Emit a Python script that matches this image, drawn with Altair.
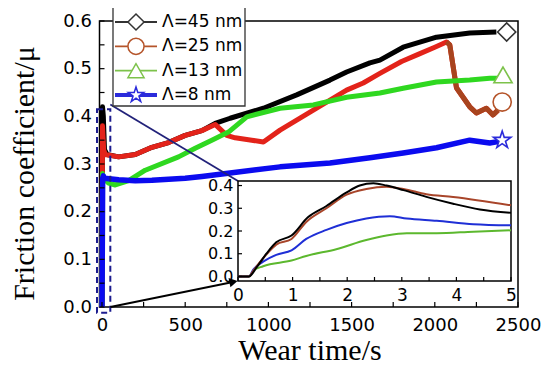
import altair as alt
import pandas as pd

# ---------------- main series (wear time s, friction coefficient) ----------------
t45 = [0, 3, 8, 15, 30, 100, 200, 300, 400, 500, 600, 680, 770, 970, 1170, 1370, 1470, 1610, 1670, 1810, 2010, 2210, 2370]
mu45 = [0, 0.42, 0.40, 0.33, 0.32, 0.315, 0.32, 0.335, 0.345, 0.36, 0.37, 0.385, 0.396, 0.417, 0.445, 0.476, 0.493, 0.512, 0.518, 0.545, 0.566, 0.575, 0.577]

t25 = [0, 3, 10, 20, 100, 200, 300, 400, 500, 600, 680, 750, 800, 900, 970, 1070, 1170, 1270, 1370, 1470, 1570, 1670, 1800, 1900, 2000, 2070, 2090, 2130, 2170, 2210, 2250, 2310, 2350, 2380]
mu25 = [0, 0.38, 0.33, 0.32, 0.315, 0.32, 0.335, 0.345, 0.36, 0.37, 0.383, 0.36, 0.355, 0.35, 0.346, 0.371, 0.392, 0.413, 0.434, 0.455, 0.47, 0.49, 0.515, 0.53, 0.545, 0.556, 0.55, 0.46, 0.44, 0.42, 0.407, 0.417, 0.403, 0.413]

t13 = [0, 3, 10, 40, 80, 160, 260, 460, 560, 660, 760, 870, 1070, 1270, 1470, 1670, 1810, 2010, 2210, 2330, 2380]
mu13 = [0, 0.28, 0.27, 0.26, 0.256, 0.265, 0.287, 0.315, 0.333, 0.35, 0.367, 0.399, 0.417, 0.424, 0.44, 0.449, 0.459, 0.472, 0.476, 0.48, 0.48]

t8 = [0, 4, 8, 15, 100, 200, 300, 400, 500, 600, 770, 1070, 1370, 1610, 1810, 2010, 2210, 2330, 2380]
mu8 = [0, 0.27, 0.275, 0.27, 0.267, 0.265, 0.266, 0.268, 0.27, 0.274, 0.281, 0.294, 0.302, 0.313, 0.323, 0.334, 0.35, 0.344, 0.347]

labels = ["Λ=45 nm", "Λ=25 nm", "Λ=13 nm", "Λ=8 nm"]
end_t = [2432, 2405, 2410, 2405]
end_mu = [0.577, 0.43, 0.487, 0.35]

# zoom box (data coords of main plot)
zoom_t = [-30, 50]
zoom_mu = [-0.012, 0.415]

# ---------------- inset series (0-5 s) ----------------
it45 = [0, 0.2, 0.34, 0.52, 0.7, 0.98, 1.28, 1.62, 1.99, 2.23, 2.48, 2.72, 3.03, 3.45, 3.94, 4.43, 5.0]
im45 = [0, 0.0, 0.04, 0.10, 0.15, 0.18, 0.26, 0.31, 0.37, 0.40, 0.41, 0.40, 0.38, 0.35, 0.32, 0.295, 0.28]
it25 = [0, 0.2, 0.28, 0.46, 0.7, 0.98, 1.25, 1.62, 1.99, 2.35, 2.72, 3.03, 3.45, 3.94, 5.0]
im25 = [0, 0.0, 0.025, 0.08, 0.14, 0.165, 0.24, 0.30, 0.36, 0.385, 0.395, 0.385, 0.362, 0.35, 0.313]
it13 = [0, 0.2, 0.28, 0.46, 0.98, 1.25, 1.8, 2.35, 2.72, 3.09, 3.64, 4.31, 5.0]
im13 = [0, 0.0, 0.025, 0.045, 0.07, 0.09, 0.12, 0.16, 0.18, 0.19, 0.19, 0.197, 0.203]
it8 = [0, 0.2, 0.28, 0.46, 0.7, 0.98, 1.25, 1.62, 1.99, 2.35, 2.78, 3.09, 3.64, 4.31, 5.0]
im8 = [0, 0.0, 0.03, 0.065, 0.095, 0.115, 0.165, 0.205, 0.235, 0.255, 0.265, 0.255, 0.245, 0.23, 0.225]

x_ticks = [0, 500, 1000, 1500, 2000, 2500]
x_minor = [250, 750, 1250, 1750, 2250]
y_ticks = [0, 0.1, 0.2, 0.3, 0.4, 0.5, 0.6]
y_minor = [0.05, 0.15, 0.25, 0.35, 0.45, 0.55]
ix_ticks = [0, 1, 2, 3, 4, 5]
ix_minor = [0.5, 1.5, 2.5, 3.5, 4.5]
iy_ticks = [0, 0.1, 0.2, 0.3, 0.4]

# ---------------- layout constants ----------------
W, H = 418.5, 286
INS_X0, INS_X1, INS_Y0, INS_Y1 = 138.5, 411.5, 160, 260
LABEL_FONT = "DejaVu Sans"
TITLE_FONT = "Liberation Serif"

STAR = ("M0,-1L0.225,-0.309L0.951,-0.309L0.363,0.118L0.588,0.809L0,0.382"
        "L-0.588,0.809L-0.363,0.118L-0.951,-0.309L-0.225,-0.309Z")

main_colors = ["#000000", "#e3231a", "#2fd820", "#0b0bef"]
marker_colors = ["#333333", "#b5542a", "#7dc24b", "#2b2bdb"]
inset_colors = ["#000000", "#a8452a", "#5cb82e", "#1f2fd6"]
shapes = ["diamond", "circle", "triangle-up", STAR]

xs = alt.Scale(domain=[-15, 2500], nice=False, zero=False)
ys = alt.Scale(domain=[0, 0.6], nice=False, zero=False)

x_axis = alt.Axis(orient="bottom", values=x_ticks, format="d", labelFont=LABEL_FONT, labelFontSize=18,
                  labelColor="black", ticks=False, domain=False, grid=False, labelPadding=9, title=None,
                  labelFlush=False)
y_axis = alt.Axis(orient="left", values=y_ticks, format=".1f", labelFont=LABEL_FONT, labelFontSize=18,
                  labelColor="black", ticks=False, domain=False, grid=False, labelPadding=8, title=None,
                  labelFlush=False)


def main_line(t, mu, color, width=5):
    df = pd.DataFrame({"t": t, "mu": mu})
    return alt.Chart(df).mark_line(color=color, strokeWidth=width, strokeJoin="round").encode(
        x=alt.X("t:Q", scale=xs, axis=x_axis),
        y=alt.Y("mu:Q", scale=ys, axis=y_axis),
    )


l45 = main_line(t45, mu45, main_colors[0])
l25 = main_line(t25, mu25, main_colors[1])
df25 = pd.DataFrame({"t": t25, "mu": mu25})
l25b = alt.Chart(df25).transform_filter(alt.datum.t >= 2070).mark_line(
    color="#a8441e", strokeWidth=5, strokeJoin="round").encode(
    x=alt.X("t:Q", scale=xs, axis=x_axis), y=alt.Y("mu:Q", scale=ys, axis=y_axis))
l13 = main_line(t13, mu13, main_colors[2])
l8 = main_line(t8, mu8, main_colors[3], 5.5)

ends = pd.DataFrame({"t": end_t, "mu": end_mu, "label": labels})
end_pts = alt.Chart(ends).mark_point(fill="white", fillOpacity=1, strokeWidth=1.6, size=330, opacity=1).encode(
    x=alt.X("t:Q", scale=xs, axis=x_axis), y=alt.Y("mu:Q", scale=ys, axis=y_axis),
    shape=alt.Shape("label:N", scale=alt.Scale(domain=labels, range=shapes), legend=None),
    color=alt.Color("label:N", scale=alt.Scale(domain=labels, range=marker_colors), legend=None),
)

zoom_df = pd.DataFrame({"x0": [zoom_t[0]], "x1": [zoom_t[1]], "y0": [zoom_mu[0]], "y1": [zoom_mu[1]]})
zoom_box = alt.Chart(zoom_df).mark_rect(fillOpacity=0, stroke="#1c1c8f", strokeWidth=2, strokeDash=[6, 4]).encode(
    x=alt.X("x0:Q", scale=xs, axis=x_axis), x2="x1:Q", y=alt.Y("y0:Q", scale=ys, axis=y_axis), y2="y1:Q")

conn_df = pd.DataFrame({"t0": [zoom_t[1]], "m0": [0.425]})
connector = alt.Chart(conn_df).mark_rule(color="#22227a", strokeWidth=1.8).encode(
    x=alt.X("t0:Q", scale=xs, axis=x_axis), y=alt.Y("m0:Q", scale=ys, axis=y_axis),
    x2=alt.value(INS_X0), y2=alt.value(INS_Y0))

arrow_df = pd.DataFrame({"t0": [zoom_t[1]], "m0": [0.0]})
arrow_line = alt.Chart(arrow_df).mark_rule(color="black", strokeWidth=1.8).encode(
    x=alt.X("t0:Q", scale=xs, axis=x_axis), y=alt.Y("m0:Q", scale=ys, axis=y_axis),
    x2=alt.value(INS_X0 - 5), y2=alt.value(INS_Y1 + 1))
arrow_head = alt.Chart(arrow_df).mark_point(shape="triangle-right", filled=True, color="black",
                                            size=90, angle=348.4, opacity=1).encode(
    x=alt.value(INS_X0 - 4.5), y=alt.value(INS_Y1 + 0.9))

xt = alt.Chart(pd.DataFrame({"v": x_ticks + x_minor})).mark_rule(color="black", strokeWidth=1.2).encode(
    x=alt.X("v:Q", scale=xs, axis=x_axis), y=alt.value(H), y2=alt.value(H - 5))
yt = alt.Chart(pd.DataFrame({"w": y_ticks + y_minor})).mark_rule(color="black", strokeWidth=1.2).encode(
    y=alt.Y("w:Q", scale=ys, axis=y_axis), x=alt.value(0), x2=alt.value(5))

main = alt.layer(l45, l25, l25b, l13, l8, end_pts, zoom_box, connector, arrow_line, arrow_head, xt, yt)

# ---------------- inset ----------------
ixs = alt.Scale(domain=[0, 5], range=[INS_X0, INS_X1], nice=False, zero=False)
iys = alt.Scale(domain=[-0.02, 0.42], range=[INS_Y1, INS_Y0], nice=False, zero=False)
ix_axis = alt.Axis(orient="bottom", offset=-(H - INS_Y1), values=ix_ticks, format="d", labelFont=LABEL_FONT,
                   labelFontSize=17, labelColor="black", ticks=False, domain=False, grid=False, labelPadding=6,
                   title=None, labelFlush=False, zindex=1)
iy_axis = alt.Axis(orient="left", offset=-INS_X0, values=iy_ticks, format=".1f", labelFont=LABEL_FONT,
                   labelFontSize=16, labelColor="black", ticks=False, domain=False, grid=False, labelPadding=5,
                   title=None, labelFlush=False, zindex=1)

inset_bg = alt.Chart(pd.DataFrame({"a": [0]})).mark_rect(fill="white", stroke="black", strokeWidth=1.5).encode(
    x=alt.value(INS_X0), x2=alt.value(INS_X1), y=alt.value(INS_Y0), y2=alt.value(INS_Y1))


def inset_line(t, mu, color):
    df = pd.DataFrame({"ti": t, "mi": mu})
    return alt.Chart(df).mark_line(color=color, strokeWidth=2, interpolate="monotone").encode(
        x=alt.X("ti:Q", scale=ixs, axis=ix_axis),
        y=alt.Y("mi:Q", scale=iys, axis=iy_axis),
    )


i13 = inset_line(it13, im13, inset_colors[2])
i8 = inset_line(it8, im8, inset_colors[3])
i25 = inset_line(it25, im25, inset_colors[1])
i45 = inset_line(it45, im45, inset_colors[0])

ixt = alt.Chart(pd.DataFrame({"iv": ix_ticks + ix_minor})).mark_rule(color="black", strokeWidth=1.2).encode(
    x=alt.X("iv:Q", scale=ixs, axis=ix_axis), y=alt.value(INS_Y1), y2=alt.value(INS_Y1 - 4))
iyt = alt.Chart(pd.DataFrame({"iw": iy_ticks})).mark_rule(color="black", strokeWidth=1.2).encode(
    y=alt.Y("iw:Q", scale=iys, axis=iy_axis), x=alt.value(INS_X0), x2=alt.value(INS_X0 + 4))

inset = alt.layer(inset_bg, i13, i8, i25, i45, ixt, iyt)

# ---------------- legend ----------------
LG_X0, LG_X1, LG_Y0, LG_Y1 = 13.5, 145.5, -14, 85
leg_df = pd.DataFrame({"label": labels, "row": [0, 1, 2, 3]})
ly = alt.Y("row:Q", scale=alt.Scale(domain=[0, 3], range=[1, 74]), axis=None)
leg_box = alt.Chart(pd.DataFrame({"a": [0]})).mark_rect(fill="white", stroke="#333333", strokeWidth=1.3).encode(
    x=alt.value(LG_X0), x2=alt.value(LG_X1), y=alt.value(LG_Y0), y2=alt.value(LG_Y1))
leg_lines = alt.Chart(leg_df).mark_rule().encode(
    x=alt.value(15.5), x2=alt.value(57.5), y=ly,
    color=alt.Color("label:N", scale=alt.Scale(domain=labels, range=["#000000", "#b5603a", "#8fd05a", "#1a1ad0"]),
                    legend=None),
    strokeWidth=alt.condition(alt.datum.row == 3, alt.value(4), alt.value(1.8)),
)
leg_pts = alt.Chart(leg_df).mark_point(fill="white", fillOpacity=1, strokeWidth=1.5, size=260, opacity=1).encode(
    x=alt.value(36.5), y=ly,
    shape=alt.Shape("label:N", scale=alt.Scale(domain=labels, range=shapes), legend=None),
    stroke=alt.Stroke("label:N", scale=alt.Scale(domain=labels, range=marker_colors), legend=None),
)
leg_txt = alt.Chart(leg_df).mark_text(align="left", baseline="middle", font=LABEL_FONT, fontSize=17,
                                      color="black").encode(x=alt.value(62.5), y=ly, text="label:N")
legend = alt.layer(leg_box, leg_lines, leg_pts, leg_txt)

# ---------------- titles ----------------
tdf = pd.DataFrame({"a": [0]})
x_title = alt.Chart(tdf).mark_text(text="Wear time/s", font=TITLE_FONT, fontSize=30, align="center",
                                   baseline="alphabetic", color="black").encode(
    x=alt.value(210.5), y=alt.value(339))
y_title = alt.Chart(tdf).mark_text(text="Friction coefficient/μ", font=TITLE_FONT, fontSize=30, align="center",
                                   baseline="alphabetic", angle=270, color="black").encode(
    x=alt.value(-65.5), y=alt.value(152.5))

chart = alt.layer(main, inset, legend, x_title, y_title).resolve_scale(
    x="independent", y="independent"
).properties(
    width=W, height=H,
    autosize=alt.AutoSizeParams(type="none"),
    padding={"left": 91.5, "top": 13, "right": 24, "bottom": 61},
).configure_view(stroke="black", strokeWidth=1.5)

chart.save("out.html", embed_options={"renderer": "svg", "actions": False})
